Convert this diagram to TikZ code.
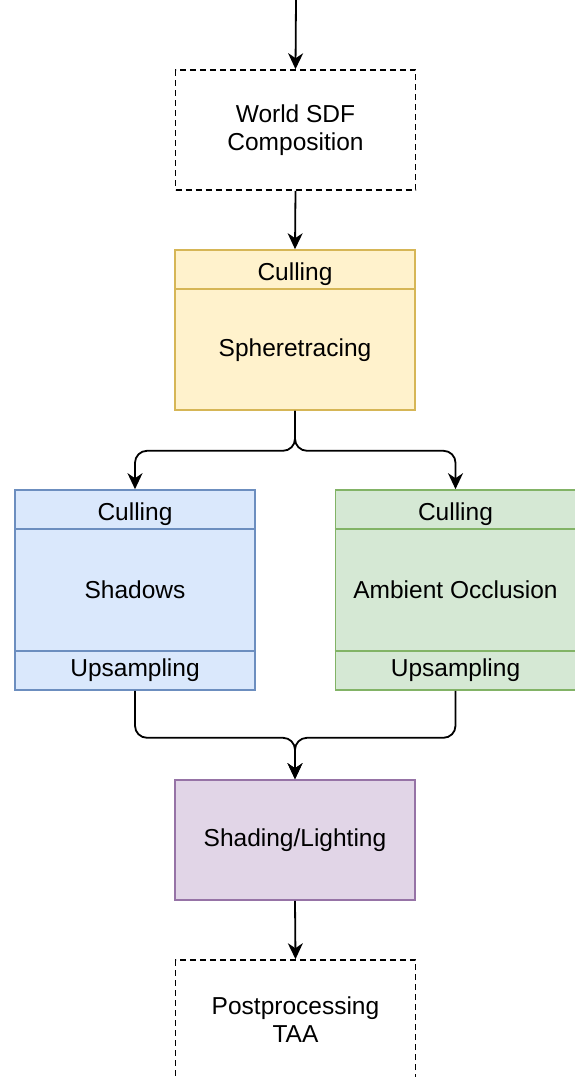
\documentclass[tikz,border=0pt]{standalone}
\usepackage{fontspec}
\setmainfont{Liberation Sans}
\usetikzlibrary{arrows.meta,calc}
\definecolor{yfill}{HTML}{FFF2CC}\definecolor{ydraw}{HTML}{D6B656}
\definecolor{bfill}{HTML}{DAE8FC}\definecolor{bdraw}{HTML}{6C8EBF}
\definecolor{gfill}{HTML}{D5E8D4}\definecolor{gdraw}{HTML}{82B366}
\definecolor{pfill}{HTML}{E1D5E7}\definecolor{pdraw}{HTML}{9673A6}
\tikzset{
  every node/.style={font=\fontsize{24.5}{28}\selectfont, align=center, inner sep=0pt},
  box/.style={draw, line width=1.6pt, minimum width=240pt, rectangle},
  dbox/.style={box, draw=black, dash pattern=on 6pt off 4pt},
  arr/.style={line width=1.8pt, -{Stealth[length=16pt,width=15pt,inset=5pt]}, rounded corners=12pt},
  div/.style={line width=1.6pt},
  lbl/.style={font=\fontsize{24.5}{28}\selectfont}
}
\begin{document}
\begin{tikzpicture}[x=1pt,y=-1pt]
\useasboundingbox (0,0) rectangle (574,1077);
% nodes
\coordinate (top) at (296,0);
\node[dbox, minimum height=120pt] (wsdf) at (295.5,130) {World SDF\\Composition};
\node[box, draw=ydraw, fill=yfill, minimum height=160pt] (yel) at (295,330) {};
\node[box, draw=bdraw, fill=bfill, minimum height=200pt] (blu) at (135,590) {};
\node[box, draw=gdraw, fill=gfill, minimum height=200pt] (grn) at (455.5,590) {};
\node[box, draw=pdraw, fill=pfill, minimum height=120pt] (pur) at (295,840) {Shading/Lighting};
\node[dbox, minimum height=120pt] (post) at (295.5,1020) {Postprocessing\\TAA};
% dividers
\draw[div, draw=ydraw] ([yshift=-40pt]yel.north west) -- ([yshift=-40pt]yel.north east);
\draw[div, draw=bdraw] ([yshift=-40pt]blu.north west) -- ([yshift=-40pt]blu.north east);
\draw[div, draw=bdraw] ([yshift=40pt]blu.south west) -- ([yshift=40pt]blu.south east);
\draw[div, draw=gdraw] ([yshift=-40pt]grn.north west) -- ([yshift=-40pt]grn.north east);
\draw[div, draw=gdraw] ([yshift=40pt]grn.south west) -- ([yshift=40pt]grn.south east);
% labels
\node[lbl] (ycul) at ([yshift=-25pt]yel.north) {Culling};
\node[lbl] (ysph) at ([yshift=-20pt]yel.center) {Spheretracing};
\node[lbl] (bcul) at ([yshift=-25pt]blu.north) {Culling};
\node[lbl] (bsha) at (blu.center) {Shadows};
\node[lbl] (bups) at ([yshift=21pt]blu.south) {Upsampling};
\node[lbl] (gcul) at ([yshift=-25pt]grn.north) {Culling};
\node[lbl] (gamb) at (grn.center) {Ambient Occlusion};
\node[lbl] (gups) at ([yshift=21pt]grn.south) {Upsampling};
% connectors
\draw[arr] (top) -- (wsdf.north);
\draw[arr] (wsdf.south) -- (yel.north);
\draw[arr] (yel.south) -- ++(0,40) -| (blu.north);
\draw[arr] (yel.south) -- ++(0,40) -| (grn.north);
\draw[arr] (blu.south) -- ++(0,47) -| (pur.north);
\draw[arr] (grn.south) -- ++(0,47) -| (pur.north);
\draw[arr] (pur.south) -- (post.north);
\end{tikzpicture}
\end{document}
